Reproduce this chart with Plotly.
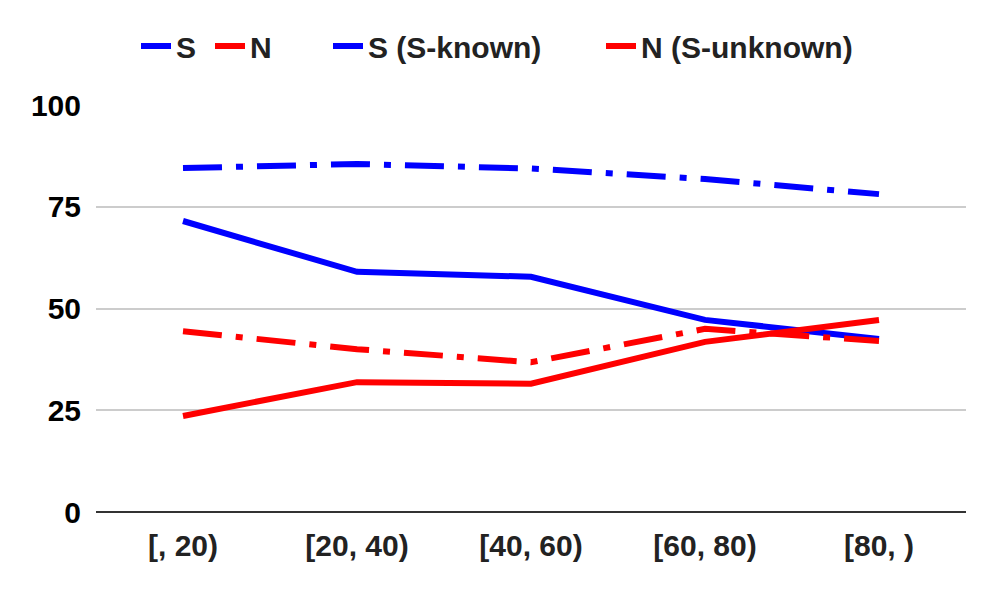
import plotly.graph_objects as go

categories = ["[, 20)", "[20, 40)", "[40, 60)", "[60, 80)", "[80, )"]
s_values = [71.5, 59.0, 57.8, 47.2, 42.5]
n_values = [23.6, 31.9, 31.5, 41.8, 47.2]
s_known_values = [84.5, 85.5, 84.4, 81.8, 78.1]
n_unknown_values = [44.4, 40.0, 36.8, 45.0, 42.0]
y_ticks = [0, 25, 50, 75, 100]

BLUE = "#0000ff"
RED = "#ff0000"
DASHDOT = "39px,14px,7px,14px"
LW = 6

fig = go.Figure()
fig.add_trace(go.Scatter(x=categories, y=s_values, name="S", mode="lines",
                         line=dict(color=BLUE, width=LW), legend="legend"))
fig.add_trace(go.Scatter(x=categories, y=n_values, name="N", mode="lines",
                         line=dict(color=RED, width=LW), legend="legend2"))
fig.add_trace(go.Scatter(x=categories, y=s_known_values, name="S (S-known)", mode="lines",
                         line=dict(color=BLUE, width=LW, dash=DASHDOT), legend="legend3"))
fig.add_trace(go.Scatter(x=categories, y=n_unknown_values, name="N (S-unknown)", mode="lines",
                         line=dict(color=RED, width=LW, dash=DASHDOT), legend="legend4"))


def leg(xpx):
    return dict(orientation="h", xref="container", yref="container",
                x=xpx / 997, xanchor="left", y=1 - 38 / 594, yanchor="middle",
                font=dict(size=30, color="#222222", weight="bold"),
                itemwidth=30, bgcolor="rgba(0,0,0,0)")


# page body has an 8px margin, so offsets are compensated below
fig.update_layout(
    width=997, height=594,
    margin=dict(l=88, r=39, t=97, b=90),
    paper_bgcolor="white", plot_bgcolor="white",
    font=dict(family="Liberation Sans, Arial, sans-serif", color="#222222"),
    showlegend=True,
    legend=leg(128), legend2=leg(202), legend3=leg(320), legend4=leg(593),
    xaxis=dict(type="category", range=[-0.5, 4.5], showgrid=False,
               showline=False, zeroline=False,
               tickfont=dict(size=30, color="#222222", weight="bold"),
               ticks="", ticklabelstandoff=13),
    yaxis=dict(range=[0, 100], tickvals=y_ticks, showgrid=True,
               gridcolor="#cccccc", gridwidth=1.5,
               zeroline=True, zerolinecolor="#333333", zerolinewidth=1.5,
               showline=False, ticks="",
               tickfont=dict(size=30, color="#000000", weight="bold"),
               ticklabelstandoff=14),
)

fig.write_html("out.html")
